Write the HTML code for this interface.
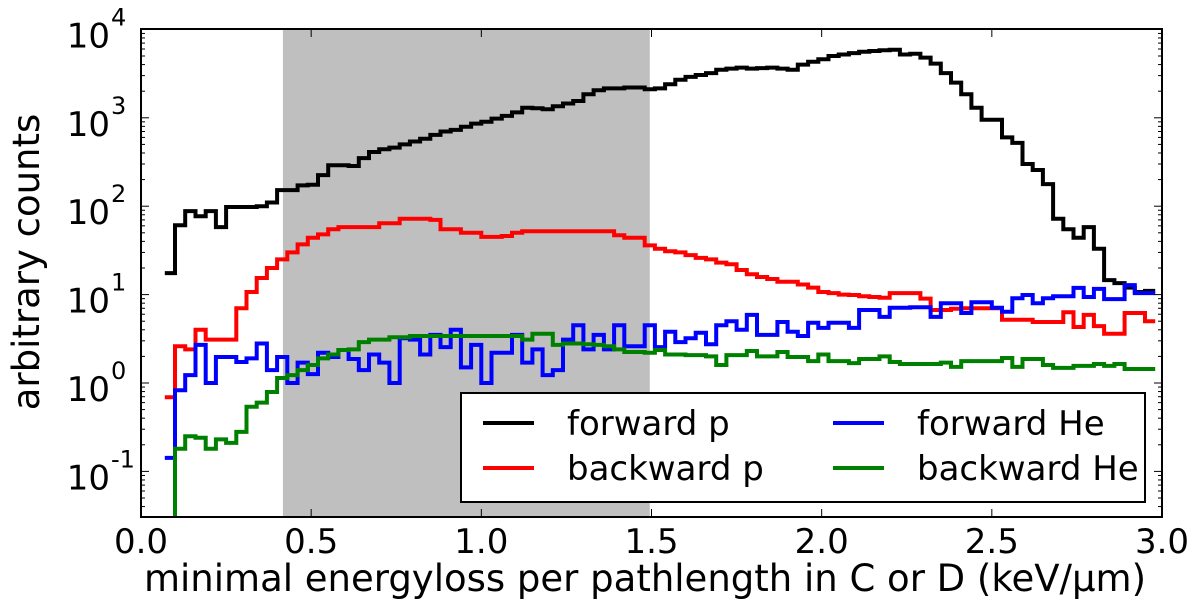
<!DOCTYPE html>
<html><head><meta charset="utf-8"><style>
html,body{margin:0;padding:0;background:#fff;width:1200px;height:603px;overflow:hidden;}
svg{display:block;font-family:"DejaVu Sans","Liberation Sans",sans-serif;}
</style></head><body>
<svg id="chart" width="1200" height="603" viewBox="0 0 1200 603" xmlns="http://www.w3.org/2000/svg">
<defs><clipPath id="clip"><rect x="141" y="29" width="1021" height="488"/></clipPath></defs>
<rect x="0" y="0" width="1200" height="603" fill="#fff"/>
<g id="shade"></g>
<g id="series" clip-path="url(#clip)"></g>
<g id="axes"></g>
</svg>
<script>
const binStart = 0.07;
const binWidth = 0.03;
const xTicks = [0.0, 0.5, 1.0, 1.5, 2.0, 2.5, 3.0];
const xTickLabels = ["0.0","0.5","1.0","1.5","2.0","2.5","3.0"];
const yTickExps = [-1, 0, 1, 2, 3, 4];
const shadeRange = [0.417, 1.495];
const forwardP = [17.5,61,88,77,88,58,98,98,98,100,110,152,152,172,175,225,290,290,285,350,410,440,460,500,540,580,640,700,730,790,860,900,980,1050,1150,1300,1280,1250,1350,1450,1550,1850,2050,2150,2150,2200,2200,2100,2150,2400,2700,2900,3050,3200,3500,3600,3700,3600,3650,3700,3600,3500,4000,4300,4600,5000,5200,5400,5600,5700,5800,5900,5200,5300,4800,4100,3200,2500,1850,1300,950,950,600,520,300,257,178,72,55,44,58,33,14.6,13.5,12,10.7,11];
const backwardP = [0.69,2.6,2.4,4.0,3.1,3.1,3.1,7.0,10.7,15.4,20,25,30,37,44,48,55,58,58,58,58,64,64,72,72,72,70,55,55,50,50,45,45,46,50,52,52,52,52,52,52,52,52,52,47,44,44,36,33,31,30,28,26,25,23,22,19,17,15.8,15,14,14,13,12,10.7,10.4,10,9.9,9.6,9.4,9.2,10.4,10.4,10.4,9.0,6.7,6.7,6.9,7.0,7.0,7.0,7.0,5.2,5.2,5.2,4.9,4.9,4.9,6.3,4.3,5.9,4.4,3.6,3.6,6.2,6.2,5.0];
const forwardHe = [0.142,0.83,1.23,2.7,1.0,1.97,1.97,1.73,1.9,2.8,1.4,1.97,1.0,1.7,1.26,2.2,1.97,2.36,1.87,1.4,2.1,1.7,1.0,3.2,3.1,2.1,3.5,2.55,4.0,1.5,2.7,1.0,2.2,2.2,3.5,1.7,2.4,1.23,1.4,3.1,4.5,2.4,3.5,2.4,4.5,2.6,2.6,4.5,2.55,3.8,2.9,3.2,3.7,2.75,4.5,5.0,4.0,5.9,3.5,3.5,4.9,3.8,3.4,4.8,4.2,4.8,4.8,4.2,6.7,6.7,5.6,7.1,7.1,7.2,7.2,5.6,8.0,8.0,6.2,8.2,8.2,7.1,6.4,9.1,9.9,8.0,9.1,9.6,9.6,11.9,9.4,11.6,8.9,8.9,12.8,10.4,10.4];
const backwardHe = [0.001,0.18,0.25,0.24,0.18,0.23,0.21,0.28,0.54,0.6,0.79,1.14,1.23,1.4,1.6,1.9,2.1,2.36,2.4,2.9,3.1,3.1,3.3,3.3,3.4,3.4,3.4,3.4,3.4,3.4,3.4,3.4,3.4,3.4,3.4,3.1,3.6,3.6,2.7,2.8,2.8,2.75,2.7,2.6,2.4,2.24,2.24,2.2,2.36,2.1,2.1,2.07,2.07,2.0,1.6,2.07,2.07,2.3,2.0,2.0,2.24,1.97,1.97,1.77,2.1,1.77,1.77,1.68,1.87,1.87,2.0,1.73,1.64,1.64,1.64,1.64,1.7,1.52,1.77,1.77,1.77,1.77,1.92,1.52,1.87,1.87,1.6,1.48,1.48,1.56,1.56,1.64,1.56,1.64,1.44,1.44,1.44];
const seriesNames = ["forward p","backward p","forward He","backward He"];
const seriesColors = ["#000000","#ff0000","#0000ff","#008000"];

const NS = "http://www.w3.org/2000/svg";
const X0 = 141, X1 = 1162, YTOP = 29, YBOT = 517;
const DEC = 88.4, Y_AT_1 = 383;
function xs(v){ return X0 + (v - 0) / 3.0 * (X1 - X0); }
function ys(v){ return Y_AT_1 - Math.log10(v) * DEC; }
function mk(tag, attrs, parent){ const e = document.createElementNS(NS, tag); for (const k in attrs) e.setAttribute(k, attrs[k]); parent.appendChild(e); return e; }

const shade = document.getElementById('shade');
const sr = mk('rect', {x: xs(shadeRange[0]), y: YTOP, width: xs(shadeRange[1]) - xs(shadeRange[0]), height: YBOT - YTOP, fill: '#bfbfbf'}, shade);



const seriesG = document.getElementById('series');
const allSeries = [forwardP, backwardP, forwardHe, backwardHe];
const seriesIds = ['forward-p-line','backward-p-line','forward-he-line','backward-he-line'];
allSeries.forEach((vals, si) => {
  let d = '';
  vals.forEach((v, i) => {
    const xa = xs(binStart + i * binWidth), xb = xs(binStart + (i + 1) * binWidth);
    const y = Math.min(ys(v), 700);
    d += (i === 0 ? 'M' : 'L') + xa.toFixed(1) + ',' + y.toFixed(1) + 'L' + xb.toFixed(1) + ',' + y.toFixed(1);
  });
  const p = mk('path', {d: d, fill: 'none', stroke: seriesColors[si], 'stroke-width': 4, 'stroke-linejoin': 'miter'}, seriesG);
  
  
});

const axes = document.getElementById('axes');
xTicks.forEach((t, i) => {
  const x = xs(t);
  mk('line', {x1: x, y1: YBOT, x2: x, y2: YBOT - 8, stroke: '#000', 'stroke-width': 1}, axes);
  mk('line', {x1: x, y1: YTOP, x2: x, y2: YTOP + 8, stroke: '#000', 'stroke-width': 1}, axes);
  const tl = mk('text', {x: x, y: 553, 'font-size': 34, 'text-anchor': 'middle', fill: '#000'}, axes);
  tl.textContent = xTickLabels[i];
  
  
});
for (let e = -2; e <= 4; e++) {
  for (let m = 1; m <= 9; m++) {
    const v = m * Math.pow(10, e);
    const y = ys(v);
    if (y < YTOP - 0.5 || y > YBOT + 0.5) continue;
    const len = m === 1 ? 8 : 4;
    mk('line', {x1: X0, y1: y, x2: X0 + len, y2: y, stroke: '#000', 'stroke-width': 1}, axes);
    mk('line', {x1: X1, y1: y, x2: X1 - len, y2: y, stroke: '#000', 'stroke-width': 1}, axes);
  }
}
yTickExps.forEach(ex => {
  const y = ys(Math.pow(10, ex));
  const t = mk('text', {x: 110, y: y + 18, 'font-size': 34, 'text-anchor': 'end', fill: '#000'}, axes);
  t.textContent = '10';
  
  
  const s = mk('text', {x: 111, y: y - 4, 'font-size': 24, 'text-anchor': 'start', fill: '#000'}, axes);
  s.textContent = String(ex);
  
  
});
const frame = mk('rect', {x: X0, y: YTOP, width: X1 - X0, height: YBOT - YTOP, fill: 'none', stroke: '#000', 'stroke-width': 2}, axes);



const xl = mk('text', {x: 645, y: 591, 'font-size': 37, 'text-anchor': 'middle', fill: '#000'}, axes);
xl.textContent = 'minimal energyloss per pathlength in C or D (keV/\u03bcm)';


const yl = mk('text', {x: 0, y: 0, 'font-size': 37, 'text-anchor': 'middle', fill: '#000', transform: 'translate(39,262) rotate(-90)'}, axes);
yl.textContent = 'arbitrary counts';



const lg = mk('g', {}, axes);


mk('rect', {x: 461, y: 393, width: 684, height: 109, fill: '#fff', stroke: '#000', 'stroke-width': 2}, lg);
const legPos = [[483, 423], [483, 468], [833, 423], [833, 468]];
seriesNames.forEach((n, i) => {
  const [lx, ly] = legPos[i];
  const ent = mk('g', {}, lg);
  
  
  mk('line', {x1: lx, y1: ly, x2: lx + 51, y2: ly, stroke: seriesColors[i], 'stroke-width': 4}, ent);
  const t = mk('text', {x: lx + 84, y: ly + 12, 'font-size': 34, fill: '#000'}, ent);
  t.textContent = n;
});
</script>
</body></html>
